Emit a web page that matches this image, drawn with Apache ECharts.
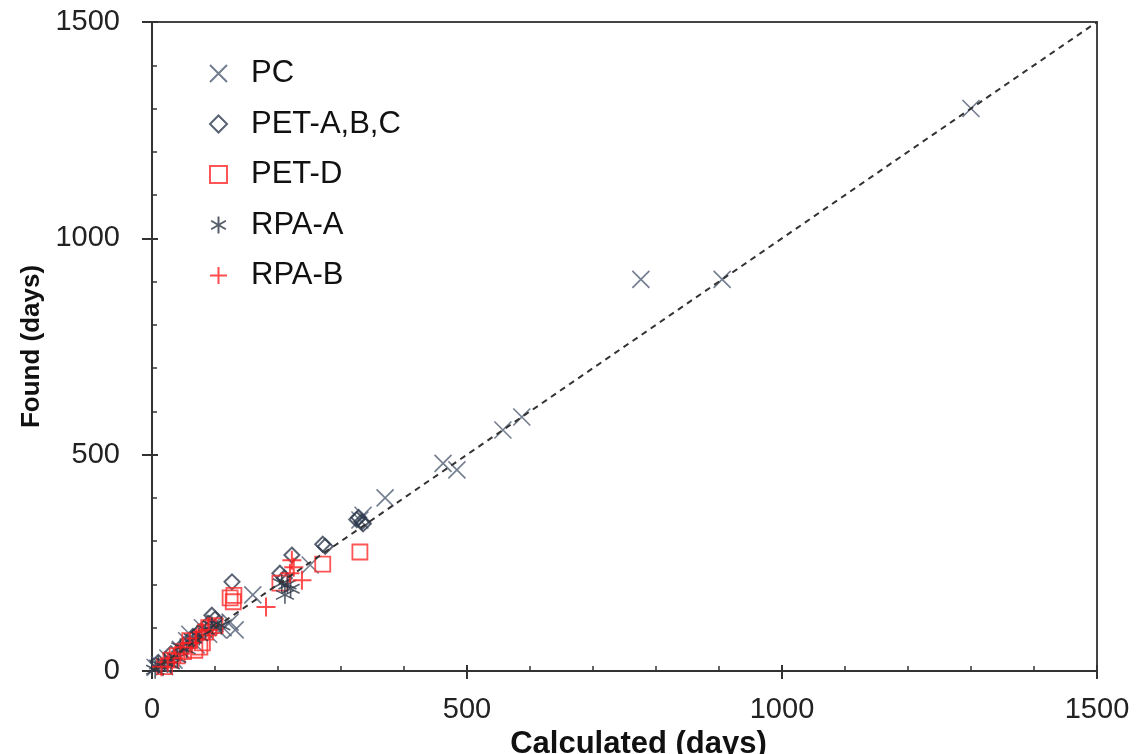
<!DOCTYPE html>
<html>
<head>
<meta charset="utf-8">
<script src="https://cdn.jsdelivr.net/npm/echarts@6/dist/echarts.min.js"></script>
<style>html,body{margin:0;padding:0;background:#fff}#c{width:1148px;height:754px}</style>
</head>
<body>
<div id="c"></div>
<script>
// Tick labels
const xTicks = [0, 500, 1000, 1500];
const yTicks = [0, 500, 1000, 1500];
const seriesNames = ['PC', 'PET-A,B,C', 'PET-D', 'RPA-A', 'RPA-B'];

// Data [calculated, found] in days
const pcData = [
  [5,8],[12,15],[20,10],[25,30],[35,25],[45,50],[55,70],[60,85],[70,60],[80,100],
  [90,85],[100,110],[105,95],[113,100],[124,113],[132,95],[160,176],[251,245],
  [330,349],[335,360],[370,400],[462,480],[484,465],[557,557],[587,587],
  [776,905],[905,905],[1300,1300]
];
const petAbcData = [
  [10,20],[30,40],[50,60],[65,80],[75,90],[90,110],[95,129],[100,120],[127,206],
  [203,226],[210,215],[222,268],[271,293],[275,288],[328,355],[333,345],[325,350],[335,340]
];
const petDData = [
  [20,10],[30,25],[40,35],[50,45],[60,70],[68,48],[76,55],[80,65],[85,90],[90,100],
  [100,105],[124,169],[129,160],[130,175],[203,203],[271,247],[330,275]
];
const rpaAData = [
  [5,3],[10,15],[20,20],[30,15],[40,30],[45,55],[55,50],[65,75],[75,80],[85,95],
  [95,105],[110,105],[206,203],[211,176],[215,200],[220,190]
];
const rpaBData = [
  [15,10],[25,20],[35,30],[45,40],[50,55],[60,65],[70,75],[80,90],[90,95],
  [181,148],[219,226],[222,256],[238,210],[225,240]
];
const diagonal = [[0,0],[1500,1500]];

const SYM_X = 'path://M0,0L10,10M10,0L0,10';
const SYM_AST = 'path://M5,0L5,10M0.67,2.5L9.33,7.5M9.33,2.5L0.67,7.5';
const SYM_PLUS = 'path://M5,0L5,10M0,5L10,5';

const chart = echarts.init(document.getElementById('c'), null, {renderer: 'canvas'});
const axisCommon = {
  type: 'value', min: 0, max: 1500, interval: 500,
  splitLine: {show: false}
};
const FONT = 'Liberation Sans, Arial, sans-serif';
const lbl = {fontFamily: FONT, fontSize: 29, color: '#222', formatter: function (v) { return String(v); }};

function sc(name, data, symbol, size, color, bw) {
  return {
    name: name, type: 'scatter', data: data, symbol: symbol, symbolSize: size,
    itemStyle: {color: 'transparent', borderColor: color, borderWidth: bw},
    emphasis: {disabled: true}, z: 3
  };
}

chart.setOption({
  animation: false,
  grid: {left: 152, top: 22, width: 945, height: 649, outerBoundsMode: 'none', containLabel: false,
         show: true, borderColor: '#444', borderWidth: 2, backgroundColor: 'transparent'},
  legend: {
    data: seriesNames, orient: 'vertical', left: 204, top: 53,
    itemWidth: 17, itemHeight: 17, itemGap: 19.5,
    textStyle: {fontFamily: FONT, fontSize: 31, color: '#111', padding: [0,0,0,19]}
  },
  xAxis: [
    Object.assign({}, axisCommon, {
      position: 'bottom',
      name: 'Calculated (days)', nameLocation: 'middle', nameGap: 55,
      nameTextStyle: {fontFamily: FONT, fontSize: 31, fontWeight: 'bold', color: '#111', padding: [0,0,0,28]},
      axisLine: {show: true, lineStyle: {color: '#333', width: 2}},
      axisTick: {show: true, inside: true, length: 6, lineStyle: {color: '#333', width: 2}},
      minorTick: {show: true, splitNumber: 5, length: 5, lineStyle: {color: '#333', width: 1.5}},
      axisLabel: Object.assign({margin: 24}, lbl)
    }),
    Object.assign({}, axisCommon, {
      position: 'bottom',
      axisLine: {show: false},
      axisTick: {show: true, inside: false, length: 8, lineStyle: {color: '#333', width: 2}},
      axisLabel: {show: false}
    })
  ],
  yAxis: [
    Object.assign({}, axisCommon, {
      position: 'left',
      name: 'Found (days)', nameLocation: 'middle', nameGap: 102,
      nameTextStyle: {fontFamily: FONT, fontSize: 26, fontWeight: 'bold', color: '#111'},
      axisLine: {show: true, lineStyle: {color: '#333', width: 2}},
      axisTick: {show: true, inside: true, length: 6, lineStyle: {color: '#333', width: 2}},
      minorTick: {show: true, splitNumber: 5, length: 5, lineStyle: {color: '#333', width: 1.5}},
      axisLabel: Object.assign({margin: 32}, lbl)
    }),
    Object.assign({}, axisCommon, {
      position: 'left',
      axisLine: {show: false},
      axisTick: {show: true, inside: false, length: 10, lineStyle: {color: '#333', width: 2}},
      axisLabel: {show: false}
    })
  ],
  series: [
    sc('PC', pcData, SYM_X, 17, '#4f5d73', 1.6),
    sc('PET-A,B,C', petAbcData, 'diamond', 15, '#2e3b4f', 2),
    sc('PET-D', petDData, 'rect', 15, '#ff2a2a', 1.8),
    sc('RPA-A', rpaAData, SYM_AST, 18, '#2b3645', 1.6),
    sc('RPA-B', rpaBData, SYM_PLUS, 19, '#ff2020', 2),
    {
      name: 'diag', type: 'line', data: diagonal, symbol: 'none', silent: true,
      lineStyle: {color: '#333', width: 2, type: [6, 5]}, z: 5
    }
  ]
});
</script>
</body>
</html>
